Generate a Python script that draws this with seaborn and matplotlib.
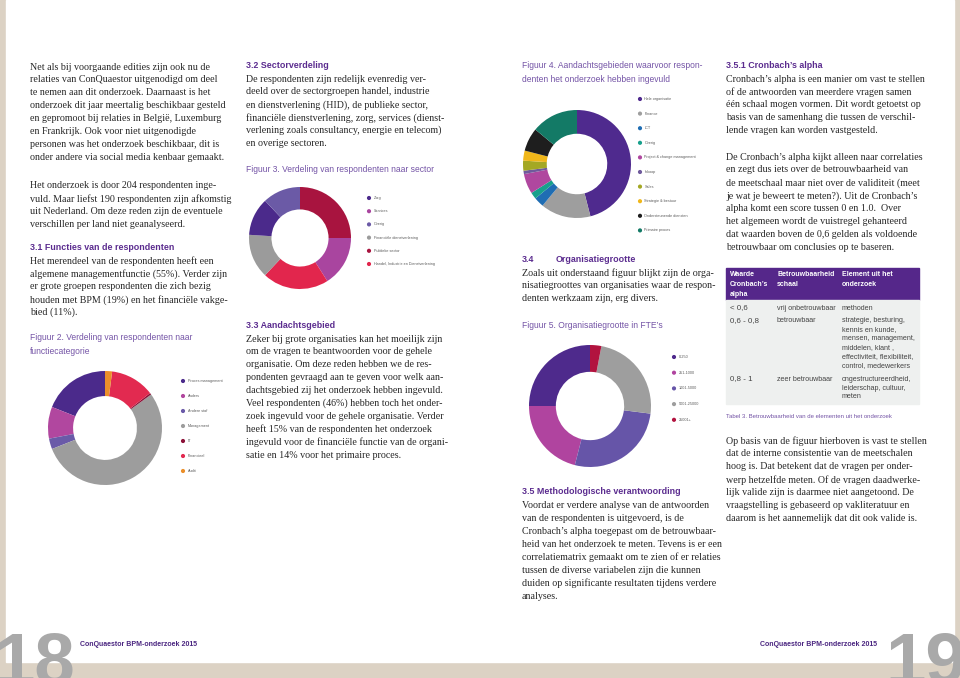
import numpy as np
import pandas as pd
import seaborn as sns
import matplotlib
matplotlib.use("Agg")
import matplotlib.pyplot as plt
from matplotlib.patches import Rectangle
from matplotlib.textpath import TextPath
from matplotlib.font_manager import FontProperties

# ---------------- data ----------------
func_labels = ["Proces management", "Anders", "Andere staf", "Management", "IT", "Financieel", "Audit"]
func_values = [19, 9, 3, 54, 0.5, 12.5, 2]
func_colors = ["#4b2a8b", "#b1479f", "#6a5aa8", "#9d9d9d", "#8c1238", "#e22a50", "#eb8f2a"]

sector_labels = ["Zorg", "Services", "Overig", "Financiële dienstverlening", "Publieke sector",
                 "Handel, Industrie en Dienstverlening"]
sector_values = [12, 16, 12, 14, 25, 21]
sector_colors = ["#4b2a8b", "#a9459f", "#6b5aa6", "#9b9b9b", "#a8143f", "#e2264d"]
sector_ring_order = ["Publieke sector", "Services", "Handel, Industrie en Dienstverlening",
                     "Financiële dienstverlening", "Zorg", "Overig"]

area_labels = ["Hele organisatie", "Finance", "ICT", "Overig", "Project & change management", "Inkoop",
               "Sales", "Strategie & bestuur", "Ondersteunende diensten", "Primaire proces"]
area_values = [46, 15, 3, 2, 6, 1, 3, 3, 7, 14]
area_colors = ["#4f2a8e", "#9e9e9e", "#1f6db3", "#17a08c", "#b0479f", "#6f5a9c",
               "#a4a824", "#f0b71a", "#1e1e1e", "#137a66"]

size_labels = ["0-250", "251-1000", "1001-5000", "5001-25000", "25001+"]
size_values = [25, 21, 27, 24, 3]
size_colors = ["#4e2a8c", "#b0449f", "#6655a8", "#9e9e9e", "#b2133f"]

table_header = [["Waarde", "Cronbach’s", "alpha"], ["Betrouwbaarheid", "schaal"], ["Element uit het", "onderzoek"]]
table_rows = [
    ["< 0,6", "vrij onbetrouwbaar", ["methoden"]],
    ["0,6 - 0,8", "betrouwbaar", ["strategie, besturing,", "kennis en kunde,", "mensen, management,",
                                   "middelen, klant ,", "effectiviteit, flexibiliteit,", "control, medewerkers"]],
    ["0,8 - 1", "zeer betrouwbaar", ["ongestructureerdheid,", "leiderschap, cultuur,", "meten"]],
]

# ---------------- text ----------------
col1_p1 = ["Net als bij voorgaande edities zijn ook nu de",
           "relaties van ConQuaestor uitgenodigd om deel",
           "te nemen aan dit onderzoek. Daarnaast is het",
           "onderzoek dit jaar meertalig beschikbaar gesteld",
           "en gepromoot bij relaties in België, Luxemburg",
           "en Frankrijk. Ook voor niet uitgenodigde",
           "personen was het onderzoek beschikbaar, dit is",
           "onder andere via social media kenbaar gemaakt."]
col1_p2 = ["Het onderzoek is door 204 respondenten inge-",
           "vuld. Maar liefst 190 respondenten zijn afkomstig",
           "uit Nederland. Om deze reden zijn de eventuele",
           "verschillen per land niet geanalyseerd."]
col1_p3 = ["Het merendeel van de respondenten heeft een",
           "algemene managementfunctie (55%). Verder zijn",
           "er grote groepen respondenten die zich bezig",
           "houden met BPM (19%) en het financiële vakge-",
           "bied (11%)."]
col2_p1 = ["De respondenten zijn redelijk evenredig ver-",
           "deeld over de sectorgroepen handel, industrie",
           "en dienstverlening (HID), de publieke sector,",
           "financiële dienstverlening, zorg, services (dienst-",
           "verlening zoals consultancy, energie en telecom)",
           "en overige sectoren."]
col2_p2 = ["Zeker bij grote organisaties kan het moeilijk zijn",
           "om de vragen te beantwoorden voor de gehele",
           "organisatie. Om deze reden hebben we de res-",
           "pondenten gevraagd aan te geven voor welk aan-",
           "dachtsgebied zij het onderzoek hebben ingevuld.",
           "Veel respondenten (46%) hebben toch het onder-",
           "zoek ingevuld voor de gehele organisatie. Verder",
           "heeft 15% van de respondenten het onderzoek",
           "ingevuld voor de financiële functie van de organi-",
           "satie en 14% voor het primaire proces."]
col3_p1 = ["Zoals uit onderstaand figuur blijkt zijn de orga-",
           "nisatiegroottes van organisaties waar de respon-",
           "denten werkzaam zijn, erg divers."]
col3_p2 = ["Voordat er verdere analyse van de antwoorden",
           "van de respondenten is uitgevoerd, is de",
           "Cronbach’s alpha toegepast om de betrouwbaar-",
           "heid van het onderzoek te meten. Tevens is er een",
           "correlatiematrix gemaakt om te zien of er relaties",
           "tussen de diverse variabelen zijn die kunnen",
           "duiden op significante resultaten tijdens verdere",
           "analyses."]
col4_p1 = ["Cronbach’s alpha is een manier om vast te stellen",
           "of de antwoorden van meerdere vragen samen",
           "één schaal mogen vormen. Dit wordt getoetst op",
           "basis van de samenhang die tussen de verschil-",
           "lende vragen kan worden vastgesteld."]
col4_p2 = ["De Cronbach’s alpha kijkt alleen naar correlaties",
           "en zegt dus iets over de betrouwbaarheid van",
           "de meetschaal maar niet over de validiteit (meet",
           "je wat je beweert te meten?). Uit de Cronbach’s",
           "alpha komt een score tussen 0 en 1.0.  Over",
           "het algemeen wordt de vuistregel gehanteerd",
           "dat waarden boven de 0,6 gelden als voldoende",
           "betrouwbaar om conclusies op te baseren."]
col4_p3 = ["Op basis van de figuur hierboven is vast te stellen",
           "dat de interne consistentie van de meetschalen",
           "hoog is. Dat betekent dat de vragen per onder-",
           "werp hetzelfde meten. Of de vragen daadwerke-",
           "lijk valide zijn is daarmee niet aangetoond. De",
           "vraagstelling is gebaseerd op vakliteratuur en",
           "daarom is het aannemelijk dat dit ook valide is."]

# ---------------- setup ----------------
W, H = 960, 678
sns.set_theme(style="white")
SERIF = ["Liberation Serif", "DejaVu Serif"]
NARROW = ["Liberation Sans", "DejaVu Sans"]
plt.rcParams["font.family"] = SERIF

def fit(s, px, family, weight="normal"):
    fp = FontProperties(family=family, weight=weight, size=10)
    w = TextPath((0, 0), s, prop=fp).get_extents().width
    return 10 * px / (w * 100 / 72)

BODY = fit("onderzoek dit jaar meertalig beschikbaar gesteld", 193, SERIF)
HEAD = fit("3.5 Methodologische verantwoording", 156, NARROW, "bold")
CAP = fit("Figuur 3. Verdeling van respondenten naar sector", 186, NARROW)
TCAP = fit("Tabel 3. Betrouwbaarheid van de elementen uit het onderzoek", 167, NARROW)
LEG = fit("Handel, Industrie en Dienstverlening", 61, NARROW)
TAB = fit("effectiviteit, flexibiliteit,", 70, NARROW)
TABH = fit("Betrouwbaarheid", 56, NARROW, "bold")
FOOT = fit("ConQuaestor BPM-onderzoek 2015", 117, NARROW, "bold")
BIG = fit("18", 74, NARROW, "bold")

PURPLE = "#5b2c8f"
CAPC = "#7454a6"
TXT = "#262626"

fig = plt.figure(figsize=(W / 100, H / 100), dpi=100)
fig.add_artist(Rectangle((0, 0), 1, 1, transform=fig.transFigure, color="#dcd2c4", zorder=-20))
fig.add_artist(Rectangle((6 / W, 1 - 662 / H), 948 / W, 662 / H, transform=fig.transFigure,
                         color="white", zorder=-19))

def T(x, y, s, size, family=SERIF, color=TXT, weight="normal", **kw):
    fig.text(x / W, 1 - y / H, s, fontsize=size, family=family, color=color,
             weight=weight, va="center", ha=kw.pop("ha", "left"), **kw)

def para(x, y0, lines, step=12.9):
    for i, s in enumerate(lines):
        T(x, y0 + i * step, s, BODY)

def head(x, y, s):
    T(x, y, s, HEAD, family=NARROW, color=PURPLE, weight="bold")

def cap(x, y, s, size=None):
    T(x, y, s, size or CAP, family=NARROW, color=CAPC)

# column 1
para(30, 67, col1_p1)
para(30, 186, col1_p2)
head(30, 247, "3.1 Functies van de respondenten")
para(30, 261, col1_p3)
cap(30, 338, "Figuur 2. Verdeling van respondenten naar")
cap(30, 351, "functiecategorie")
# column 2
head(246, 66, "3.2 Sectorverdeling")
para(246, 79, col2_p1)
cap(246, 170, "Figuur 3. Verdeling van respondenten naar sector")
head(246, 325, "3.3 Aandachtsgebied")
para(246, 339, col2_p2)
# column 3
cap(522, 66, "Figuur 4. Aandachtsgebieden waarvoor respon-")
cap(522, 79, "denten het onderzoek hebben ingevuld")
head(522, 259, "3.4")
head(556, 259, "Organisatiegrootte")
para(522, 273, col3_p1)
cap(522, 325, "Figuur 5. Organisatiegrootte in FTE’s")
head(522, 492, "3.5 Methodologische verantwoording")
para(522, 506, col3_p2)
# column 4
head(726, 66, "3.5.1 Cronbach’s alpha")
para(726, 79, col4_p1)
para(726, 157, col4_p2)
cap(726, 416, "Tabel 3. Betrouwbaarheid van de elementen uit het onderzoek", TCAP)
para(726, 441, col4_p3)

# ---------------- donuts ----------------
def donut(cx, cy, r, values, colors, counterclock):
    ax = fig.add_axes([(cx - r) / W, 1 - (cy + r) / H, 2 * r / W, 2 * r / H])
    ax.pie(values, colors=colors, startangle=90, counterclock=counterclock, radius=1,
           wedgeprops=dict(width=0.44, linewidth=0))
    ax.set_xlim(-1, 1)
    ax.set_ylim(-1, 1)
    ax.set_aspect("equal")
    ax.axis("off")

def legend(xm, y0, step, labels, colors):
    n = len(labels)
    ax = fig.add_axes([(xm - 4) / W, 1 - (y0 + (n - 0.5) * step) / H, 100 / W, n * step / H])
    ax.set_xlim(-4, 96)
    ax.set_ylim(n - 0.5, -0.5)
    ax.axis("off")
    ax.scatter(np.zeros(n), np.arange(n), s=9, c=colors, linewidths=0)
    for i, lab in enumerate(labels):
        ax.text(4.5, i, lab, fontsize=LEG, family=NARROW, color="#5a5a5a", va="center")

donut(105, 428, 57, func_values, func_colors, True)
legend(183, 381, 15, func_labels, func_colors)

s_map = dict(zip(sector_labels, sector_values))
c_map = dict(zip(sector_labels, sector_colors))
donut(300, 238, 51, [s_map[k] for k in sector_ring_order], [c_map[k] for k in sector_ring_order], False)
legend(369, 198, 13.2, sector_labels, sector_colors)

donut(577, 164, 54, area_values, area_colors, False)
legend(640, 99, 14.6, area_labels, area_colors)

donut(590, 406, 61, size_values, size_colors, True)
legend(674, 357, 15.7, size_labels, size_colors)

# ---------------- table ----------------
fig.add_artist(Rectangle((726 / W, 1 - 300 / H), 193 / W, 32 / H, transform=fig.transFigure,
                         color="#55278a", zorder=-5))
fig.add_artist(Rectangle((726 / W, 1 - 404 / H), 193 / W, 104 / H, transform=fig.transFigure,
                         color="#eef0ef", zorder=-5))
col_x = [730, 777, 842]
for cx, lines in zip(col_x, table_header):
    for j, s in enumerate(lines):
        T(cx, 275 + j * 9.5, s, TABH, family=NARROW, color="white", weight="bold")
row_y = [308, 321, 379]
for ry, (a, b, c) in zip(row_y, table_rows):
    T(col_x[0], ry, a, TAB * 1.1, family=NARROW, color="#444444")
    T(col_x[1], ry, b, TAB, family=NARROW, color="#444444")
    for j, s in enumerate(c):
        T(col_x[2], ry + j * 9, s, TAB, family=NARROW, color="#444444")

# ---------------- footer ----------------
T(80, 645, "ConQuaestor BPM-onderzoek 2015", FOOT, family=NARROW, color="#4a2580", weight="bold")
T(760, 645, "ConQuaestor BPM-onderzoek 2015", FOOT, family=NARROW, color="#4a2580", weight="bold")
fig.text(-6 / W, 1 - 684 / H, "18", fontsize=BIG, family=NARROW, weight="bold", color="#a9a9a9",
         va="baseline", ha="left", zorder=5)
fig.text(966 / W, 1 - 684 / H, "19", fontsize=BIG, family=NARROW, weight="bold", color="#a9a9a9",
         va="baseline", ha="right", zorder=5)

fig.savefig("out.png", dpi=100)
